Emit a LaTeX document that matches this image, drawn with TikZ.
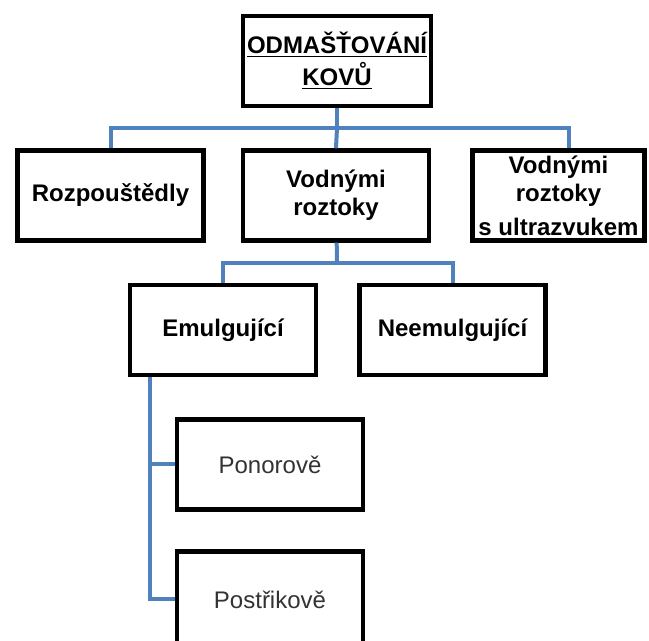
\documentclass[tikz,border=0pt]{standalone}
\usepackage{fontspec}
\setmainfont{Liberation Sans}
\usetikzlibrary{positioning}
\definecolor{linkblue}{RGB}{79,129,189}
\tikzset{
  box/.style={draw=black,line width=2.2pt,fill=white,align=center,
    minimum width=93pt,minimum height=45pt,inner sep=2pt,
    font=\fontsize{12}{14}\selectfont\bfseries},
  subbox/.style={box,font=\fontsize{12}{14}\selectfont,text=black!80},
  link/.style={draw=linkblue,line width=2pt}
}
\begin{document}
\begin{tikzpicture}[x=0.5pt,y=-0.5pt]
        \useasboundingbox (0,0) rectangle (649,641);
        %hlavni
        \node[box] (odm) at (337,61) {\underline{ODMAŠŤOVÁNÍ}\\[2pt]\underline{KOVŮ}};
        %druha rada
        \node[box] (rozp) at (110.5,195.5) {Rozpouštědly};
        \node[box] (vodn) at (336,195.5) {Vodnými\\roztoky};
        \node[box,minimum width=86pt] (ultra) at (558.5,195.5) {Vodnými\\roztoky\\[3pt]s ultrazvukem};
        \coordinate (busA) at (337,128);
        \draw[link] (odm) -- (busA);
        \draw[link] (rozp.north) |- (busA) -| ([xshift=5pt]ultra.north);
        \draw[link] (busA) -- (vodn.north);
        %treti rada
        \node[box] (emul) at (223,330) {Emulgující};
        \node[box] (neem) at (452.5,330) {Neemulgující};
        \coordinate (busB) at (337,263);
        \draw[link] (vodn) -- (busB);
        \draw[link] (emul.north) |- (busB) -| (neem.north);
        %zpusob
        \node[subbox] (pono) at (270,464.5) {Ponorově};
        \node[subbox,minimum height=48pt] (post) at (270,599.5) {Postřikově};
        \coordinate (stem) at ([xshift=11pt]emul.south west);
        \draw[link] (stem) |- (pono.west);
        \draw[link] (stem) |- (post.west);
    \end{tikzpicture}
\end{document}
